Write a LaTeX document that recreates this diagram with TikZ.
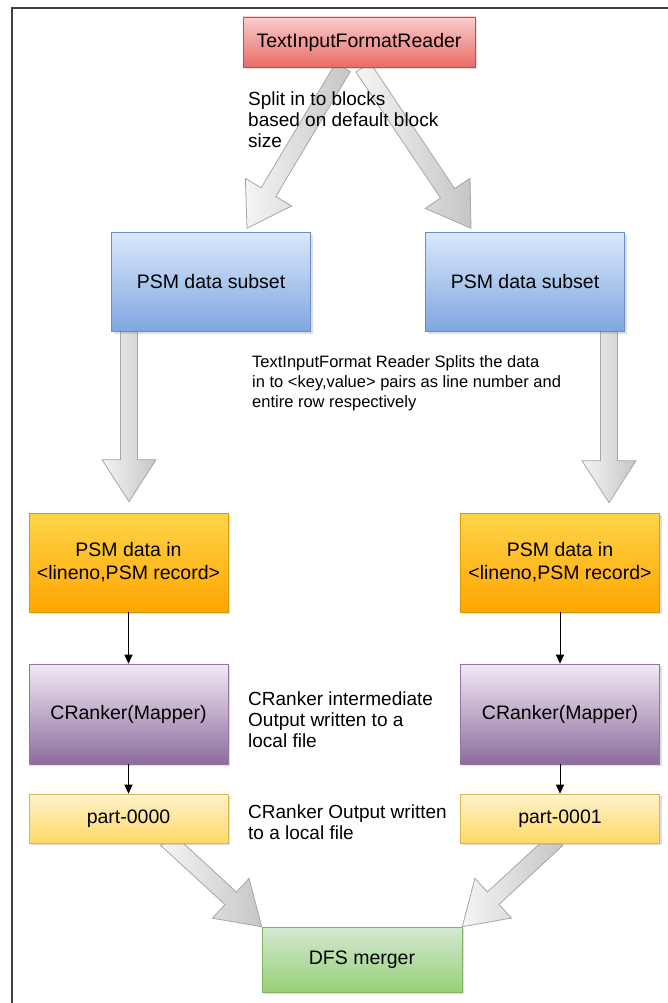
\documentclass[tikz,border=0pt]{standalone}
\usepackage{fontspec}
\setmainfont{Liberation Sans}
\usetikzlibrary{positioning, calc, shadows, arrows.meta, backgrounds}

\definecolor{redtop}{HTML}{F8CECC}\definecolor{redbot}{HTML}{EA6B66}\definecolor{redline}{HTML}{B85450}
\definecolor{bluetop}{HTML}{DAE8FC}\definecolor{bluebot}{HTML}{7EA6E0}\definecolor{blueline}{HTML}{6C8EBF}
\definecolor{orgtop}{HTML}{FFD54A}\definecolor{orgbot}{HTML}{FFA500}\definecolor{orgline}{HTML}{D79B00}
\definecolor{purtop}{HTML}{F1EAF4}\definecolor{purbot}{HTML}{8C6C9C}\definecolor{purline}{HTML}{9673A6}
\definecolor{yeltop}{HTML}{FFF2CC}\definecolor{yelbot}{HTML}{FFD966}\definecolor{yelline}{HTML}{D6B656}
\definecolor{grntop}{HTML}{D5E8D4}\definecolor{grnbot}{HTML}{97D077}\definecolor{grnline}{HTML}{82B366}

\tikzset{
  block/.style={minimum width=199pt, minimum height=99pt, align=center, line width=0.6pt,
    font=\fontsize{19.5}{23}\selectfont,
    drop shadow={opacity=0.25, shadow xshift=2pt, shadow yshift=-2pt}},
  reader/.style={block, minimum width=232pt, minimum height=50pt, draw=redline, top color=redtop, bottom color=redbot},
  subset/.style={block, draw=blueline, top color=bluetop, bottom color=bluebot},
  record/.style={block, draw=orgline, top color=orgtop, bottom color=orgbot},
  mapper/.style={block, minimum height=100pt, draw=purline, top color=purtop, bottom color=purbot},
  part/.style={block, minimum height=49pt, draw=yelline, top color=yeltop, bottom color=yelbot},
  merger/.style={block, minimum width=200pt, minimum height=65pt, draw=grnline, top color=grntop, bottom color=grnbot},
  note/.style={anchor=west, inner sep=0pt, align=left, font=\fontsize{19}{21}\selectfont},
  fat/.style={draw=gray!70, line width=0.8pt, left color=gray!8, right color=gray!45},
  frame/.style={draw=black!75, line width=2pt}
}

% big hollow-looking arrow between two named points
\newcommand{\fatarrow}[2]{%
  \coordinate (fa) at ($(#2)!42pt!(#1)$);
  \path[fat] ($(#1)!8.5pt!90:(#2)$) -- ($(fa)!8.5pt!90:(#2)$) -- ($(fa)!27pt!90:(#2)$) -- (#2)
    -- ($(fa)!27pt!-90:(#2)$) -- ($(fa)!8.5pt!-90:(#2)$) -- ($(#1)!8.5pt!-90:(#2)$) -- cycle;}

\begin{document}
\begin{tikzpicture}[x=1pt, y=1pt]
  \useasboundingbox (0,0) rectangle (668,-1003);
  \draw[frame] (12,-1003) -- (12,-8) -- (668,-8);

  \node[reader] (tifr) at (359,-42) {TextInputFormatReader};
  \node[note] (split) at (248,-120) {Split in to blocks\\based on default block\\size};
  \node[subset] (psmL) at (211,-282) {PSM data subset};
  \node[subset] (psmR) at (525,-282) {PSM data subset};
  \node[note, font=\fontsize{16.5}{20}\selectfont] (pairs) at (252,-383)
    {TextInputFormat Reader Splits the data\\in to <key,value> pairs as line number and\\entire row respectively};

  \node[record] (recL) at (128.5,-562.5) {PSM data in\\<lineno,PSM record>};
  \node[record] (recR) at (560,-562.5) {PSM data in\\<lineno,PSM record>};
  \node[mapper] (mapL) at (128.5,-714) {CRanker(Mapper)};
  \node[mapper] (mapR) at (560,-714) {CRanker(Mapper)};
  \node[note] (interm) at (248,-720) {CRanker intermediate\\Output written to a\\local file};
  \node[part] (partL) at (128.5,-818.5) {part-0000};
  \node[part] (partR) at (560,-818.5) {part-0001};
  \node[note] (output) at (248,-822) {CRanker Output written\\to a local file};
  \node[merger] (dfs) at (362,-959.5) {DFS merger};

  % big arrows, kept under boxes and notes
  \begin{scope}[on background layer]
    \coordinate (sL) at ($(tifr.south)+(-16,0)$);
    \coordinate (sR) at ($(tifr.south)+(4,0)$);
    \coordinate (tL) at ($(psmL.north)+(36,4)$);
    \coordinate (tR) at ($(psmR.north)+(-54,4)$);
    \fatarrow{sL}{tL}
    \fatarrow{sR}{tR}
    \coordinate (vLa) at ($(psmL.south)+(-82,0)$);
    \coordinate (vLb) at ($(recL.north)+(0.5,11)$);
    \coordinate (vRa) at ($(psmR.south)+(84,0)$);
    \coordinate (vRb) at ($(recR.north)+(49,10)$);
    \fatarrow{vLa}{vLb}
    \fatarrow{vRa}{vRb}
    \coordinate (mLa) at ($(partL.south)+(38,4)$);
    \coordinate (mRa) at ($(partR.south)+(-3,4)$);
    \fatarrow{mLa}{dfs.north west}
    \fatarrow{mRa}{dfs.north east}
  \end{scope}

  % small arrows
  \path[-{Triangle[length=9pt, width=8pt]}, line width=1pt]
    (recL) edge (mapL)
    (recR) edge (mapR)
    (mapL) edge (partL)
    (mapR) edge (partR);
\end{tikzpicture}
\end{document}
